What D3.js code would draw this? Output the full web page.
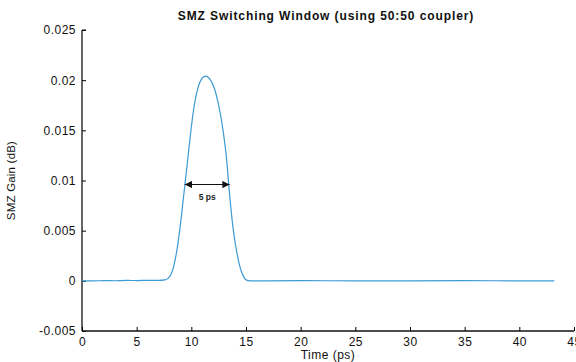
<!DOCTYPE html>
<html>
<head>
<meta charset="utf-8">
<script src="https://cdn.jsdelivr.net/npm/d3@7/dist/d3.min.js"></script>
<style>
  body { margin: 0; background: #fff; }
  svg { display: block; font-family: "Liberation Sans", Arial, sans-serif; }
</style>
</head>
<body>
<svg id="chart" width="576" height="362"></svg>
<script>
// time (ps) and SMZ gain (dB)
const time = [0, 1, 2, 3, 4, 5, 6, 7, 7.6, 8.0, 8.4, 8.7, 9.0, 9.3, 9.6, 9.9, 10.2, 10.6, 11.0, 11.3, 11.7, 12.1, 12.5, 12.9, 13.2, 13.5, 13.8, 14.1, 14.4, 14.7, 15.0, 15.4, 17, 20, 25, 30, 35, 40, 43.2];
const gain = [0, 0, 0.00002, 0.00001, 0.00004, 0.00003, 0.00005, 0.00005, 0.0001, 0.0004, 0.0015, 0.0032, 0.0056, 0.0085, 0.0114, 0.0144, 0.0170, 0.0192, 0.0202, 0.0204, 0.0201, 0.0192, 0.0175, 0.0150, 0.0124, 0.0086, 0.0054, 0.0032, 0.0016, 0.0006, 0.0001, 0, 0, 0.00002, 0, 0, 0.00002, 0, 0];
const xTicks = [0, 5, 10, 15, 20, 25, 30, 35, 40, 45];
const yTicks = [-0.005, 0, 0.005, 0.01, 0.015, 0.02, 0.025];
const fwhm = [9.4, 13.5]; // arrow span (ps)
const fwhmLevel = 0.0096;

const svg = d3.select('#chart');
const margin = { top: 30, right: 2, bottom: 31, left: 82 };
const width = 576, height = 362;

const x = d3.scaleLinear().domain([0, 45]).range([margin.left, 574]);
const y = d3.scaleLinear().domain([-0.005, 0.025]).range([height - margin.bottom, margin.top]);

// axes, MATLAB-style inward ticks
const yAxis = svg.append('g')
  .attr('transform', `translate(${margin.left},0)`)
  .call(d3.axisLeft(y).tickValues(yTicks).tickSize(-4).tickPadding(6).tickFormat(d => String(+d.toFixed(3))));
yAxis.select('.domain').attr('d', `M0,${y(-0.005)}V${y(0.025)}`).attr('stroke', '#111').attr('stroke-width', 1.3);
yAxis.selectAll('text').attr('font-size', 12).attr('letter-spacing', 0.5).attr('fill', '#111');

const xAxis = svg.append('g')
  .attr('transform', `translate(0,${y(-0.005)})`)
  .call(d3.axisBottom(x).tickValues(xTicks).tickSize(-4).tickPadding(6));
xAxis.select('.domain').attr('d', `M${x(0)},0H${x(45)}`).attr('stroke', '#111').attr('stroke-width', 1.3);
xAxis.selectAll('text').attr('font-size', 12).attr('letter-spacing', 0.5).attr('fill', '#111');
// small top tick on 0.025 (MATLAB corner)
svg.append('line').attr('x1', x(0)).attr('x2', x(0) + 4).attr('y1', y(0.025)).attr('y2', y(0.025)).attr('stroke', '#111');

// curve
const line = d3.line().x((d, i) => x(time[i])).y(d => y(d)).curve(d3.curveMonotoneX);
svg.append('path')
  .datum(gain)
  .attr('d', line)
  .attr('fill', 'none')
  .attr('stroke', '#3c9ad6')
  .attr('stroke-width', 1.2);

// 5 ps annotation
svg.append('defs').selectAll('marker')
  .data(['s', 'e']).join('marker')
  .attr('id', d => 'arr' + d)
  .attr('viewBox', '0 0 10 10').attr('refX', 10).attr('refY', 5)
  .attr('markerWidth', 8).attr('markerHeight', 6).attr('orient', 'auto-start-reverse')
  .append('path').attr('d', 'M0,0L10,5L0,10z').attr('fill', '#111');
svg.append('line')
  .attr('x1', x(fwhm[0])).attr('x2', x(fwhm[1]))
  .attr('y1', y(fwhmLevel)).attr('y2', y(fwhmLevel))
  .attr('stroke', '#111').attr('stroke-width', 1.2)
  .attr('marker-start', 'url(#arrs)').attr('marker-end', 'url(#arre)');
svg.append('text')
  .attr('x', x((fwhm[0] + fwhm[1]) / 2)).attr('y', y(fwhmLevel) + 15)
  .attr('text-anchor', 'middle').attr('font-size', 8.5).attr('font-weight', 'bold').attr('fill', '#222')
  .text('5 ps');

// labels
svg.append('text')
  .attr('x', 326).attr('y', 20)
  .attr('text-anchor', 'middle').attr('font-size', 12).attr('letter-spacing', 0.9)
  .attr('font-weight', 'bold').attr('fill', '#111')
  .text('SMZ Switching Window (using 50:50 coupler)');
svg.append('text')
  .attr('x', 328).attr('y', 359)
  .attr('text-anchor', 'middle').attr('font-size', 12).attr('letter-spacing', 0.5).attr('fill', '#111')
  .text('Time (ps)');
svg.append('text')
  .attr('transform', `translate(15,${y(0.01)})rotate(-90)`)
  .attr('text-anchor', 'middle').attr('font-size', 11.5).attr('letter-spacing', 0.2).attr('fill', '#111')
  .text('SMZ Gain (dB)');
</script>
</body>
</html>
